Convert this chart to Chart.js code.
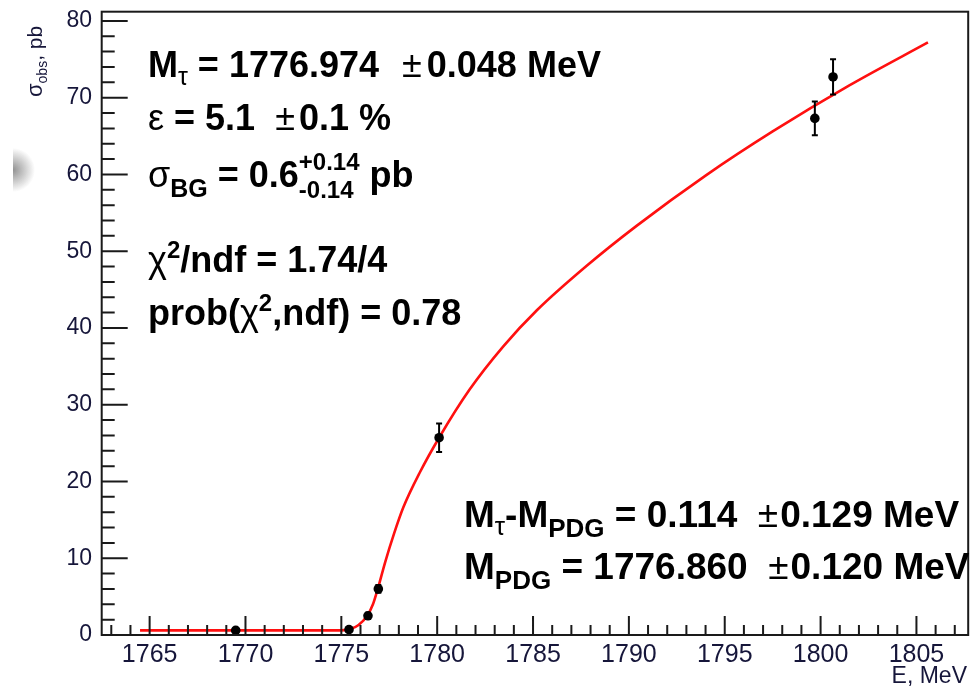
<!DOCTYPE html>
<html>
<head>
<meta charset="utf-8">
<script src="https://cdn.jsdelivr.net/npm/chart.js@4.4.1/dist/chart.umd.min.js"></script>
<style>
  html, body { margin: 0; padding: 0; background: #fff; }
  #wrap { position: relative; width: 973px; height: 689px; }
  #smudge {
    position: absolute; left: 13px; top: 148px; width: 22px; height: 44px;
    background: radial-gradient(ellipse 100% 50% at left center, rgba(110,110,110,0.75), rgba(255,255,255,0) 100%);
  }
</style>
</head>
<body>
<div id="wrap">
  <canvas id="xsChart" width="973" height="689"></canvas>
  <div id="smudge"></div>
</div>
<script>
// measured points: beam energy (MeV), observed cross section (pb) and its error
const energies = [1769.49, 1775.4, 1776.39, 1776.93, 1780.1, 1799.7, 1800.65];
const xsec     = [0.6, 0.7, 2.5, 6.0, 25.7, 67.3, 72.7];
const xsecErr  = [0.3, 0.3, 0.4, 0.5, 1.85, 2.2, 2.3];

// fitted curve, sampled
const fitE    = [1764.5, 1775.0, 1775.5, 1775.9, 1776.35, 1776.65, 1776.9, 1777.3, 1777.75, 1778.23,
                 1779.1, 1780.1, 1781.7, 1783.45, 1785.2, 1787.8, 1790.4, 1794.0, 1797.5, 1801.5, 1805.6];
const fitXsec = [0.6, 0.6, 0.8, 1.3, 2.5, 4.0, 6.0, 9.6, 13.2, 16.6,
                 21.2, 25.7, 32.0, 37.6, 42.3, 48.1, 53.3, 59.85, 65.6, 71.6, 77.2];

const xTickLabels = [1765, 1770, 1775, 1780, 1785, 1790, 1795, 1800, 1805];
const yTickLabels = [0, 10, 20, 30, 40, 50, 60, 70, 80];

const X_MIN = 1762.5, X_MAX = 1807.7, Y_MIN = 0, Y_MAX = 81.2;

const FONT = '"Liberation Sans", Arial, Helvetica, sans-serif';
const B36 = 'bold 36px ' + FONT, R36 = '36px ' + FONT;
const B25 = 'bold 25px ' + FONT, R25 = '25px ' + FONT, B24 = 'bold 24px ' + FONT;
const B37 = 'bold 37px ' + FONT, R37 = '37px ' + FONT, B26 = 'bold 26px ' + FONT, R26 = '26px ' + FONT;

// draw a row of text pieces (sub/superscripts via dy), stack = two pieces at same x
function drawRuns(ctx, x, y, runs) {
  for (const r of runs) {
    if (r.stack) {
      let w = 0;
      for (const s of r.stack) {
        ctx.font = s.f;
        ctx.fillText(s.t, x, y + s.dy);
        w = Math.max(w, ctx.measureText(s.t).width);
      }
      x += w;
    } else {
      ctx.font = r.f;
      ctx.fillText(r.t, x, y + (r.dy || 0));
      x += ctx.measureText(r.t).width + (r.gap || 0);
    }
  }
}

const errorBars = {
  id: 'errorBars',
  afterDatasetDraw(chart, args) {
    if (args.index !== 0) return;
    const ctx = chart.ctx, xs = chart.scales.x, ys = chart.scales.y;
    ctx.save();
    ctx.strokeStyle = '#000';
    ctx.lineWidth = 2;
    energies.forEach((e, i) => {
      const px = xs.getPixelForValue(e);
      const lo = ys.getPixelForValue(xsec[i] - xsecErr[i]);
      const hi = ys.getPixelForValue(xsec[i] + xsecErr[i]);
      ctx.beginPath();
      ctx.moveTo(px, lo); ctx.lineTo(px, hi);
      ctx.moveTo(px - 3, lo); ctx.lineTo(px + 3, lo);
      ctx.moveTo(px - 3, hi); ctx.lineTo(px + 3, hi);
      ctx.stroke();
    });
    ctx.restore();
  }
};

const frame = {
  id: 'frame',
  afterDraw(chart) {
    const ctx = chart.ctx, xs = chart.scales.x, ys = chart.scales.y;
    const a = chart.chartArea;
    ctx.save();

    // axes box
    ctx.strokeStyle = '#1a1a1a';
    ctx.lineWidth = 2;
    ctx.strokeRect(a.left, a.top, a.right - a.left, a.bottom - a.top);

    // ticks pointing into the frame
    ctx.beginPath();
    for (let v = Math.ceil(X_MIN); v <= X_MAX; v += 1) {
      const px = xs.getPixelForValue(v);
      const len = xTickLabels.includes(v) ? 19 : 10;
      ctx.moveTo(px, a.bottom); ctx.lineTo(px, a.bottom - len);
    }
    for (let v = Y_MIN; v <= Y_MAX; v += 2) {
      const py = ys.getPixelForValue(v);
      const len = yTickLabels.includes(v) ? 26 : 13;
      ctx.moveTo(a.left, py); ctx.lineTo(a.left + len, py);
    }
    ctx.stroke();

    // tick labels
    ctx.fillStyle = '#16163a';
    ctx.font = '25px ' + FONT;
    ctx.textAlign = 'center';
    ctx.textBaseline = 'alphabetic';
    xTickLabels.forEach(v => ctx.fillText(String(v), xs.getPixelForValue(v), 662));
    ctx.font = '23px ' + FONT;
    ctx.textAlign = 'right';
    ctx.textBaseline = 'middle';
    yTickLabels.forEach(v => ctx.fillText(String(v), 92, ys.getPixelForValue(v)));

    // axis titles
    ctx.textBaseline = 'alphabetic';
    ctx.font = '23px ' + FONT;
    ctx.fillText('E, MeV', 967, 683);
    ctx.save();
    ctx.translate(42, 97);
    ctx.rotate(-Math.PI / 2);
    ctx.textAlign = 'left';
    drawRuns(ctx, 0, 0, [
      { t: 'σ', f: '22px ' + FONT },
      { t: 'obs', f: '14px ' + FONT, dy: 5 },
      { t: ', pb', f: '21px ' + FONT }
    ]);
    ctx.restore();

    // fit results
    ctx.fillStyle = '#000';
    ctx.textAlign = 'left';
    drawRuns(ctx, 148, 77, [
      { t: 'M', f: B36 }, { t: 'τ', f: R25, dy: 8 },
      { t: ' = 1776.974  ', f: B36, gap: 3 }, { t: '±', f: R36, gap: 5 }, { t: '0.048 MeV', f: B36 }
    ]);
    drawRuns(ctx, 148, 130, [
      { t: 'ε', f: R36 }, { t: ' = 5.1  ', f: B36 }, { t: '±', f: R36, gap: 4 }, { t: '0.1 %', f: B36 }
    ]);
    drawRuns(ctx, 148, 187, [
      { t: 'σ', f: R36 }, { t: 'BG', f: B25, dy: 10 }, { t: ' = 0.6', f: B36 },
      { stack: [{ t: '+0.14', f: B24, dy: -17 }, { t: '-0.14', f: B24, dy: 11 }] },
      { t: ' pb', f: B36 }
    ]);
    drawRuns(ctx, 148, 272, [
      { t: 'χ', f: R36 }, { t: '2', f: B24, dy: -14 }, { t: '/ndf = 1.74/4', f: B36 }
    ]);
    drawRuns(ctx, 148, 325, [
      { t: 'prob(', f: B36 }, { t: 'χ', f: R36 }, { t: '2', f: B24, dy: -14 },
      { t: ',ndf) = 0.78', f: B36 }
    ]);

    drawRuns(ctx, 464, 527, [
      { t: 'M', f: B37 }, { t: 'τ', f: R26, dy: 8 }, { t: '-M', f: B37 },
      { t: 'PDG', f: B26, dy: 10 }, { t: ' = 0.114  ', f: B37 }, { t: '±', f: R37, gap: 2 },
      { t: '0.129 MeV', f: B37 }
    ]);
    drawRuns(ctx, 464, 579, [
      { t: 'M', f: B37 }, { t: 'PDG', f: B26, dy: 10 }, { t: ' = 1776.860  ', f: B37 },
      { t: '±', f: R37, gap: 2 }, { t: '0.120 MeV', f: B37 }
    ]);

    ctx.restore();
  }
};

new Chart(document.getElementById('xsChart'), {
  type: 'scatter',
  data: {
    datasets: [
      {
        type: 'line',
        data: fitE.map((e, i) => ({ x: e, y: fitXsec[i] })),
        borderColor: 'rgb(255, 16, 16)',
        borderWidth: 2.6,
        pointRadius: 0,
        fill: false,
        cubicInterpolationMode: 'monotone',
        order: 2
      },
      {
        data: energies.map((e, i) => ({ x: e, y: xsec[i] })),
        backgroundColor: '#000',
        borderWidth: 0,
        pointRadius: 4.8,
        order: 1
      }
    ]
  },
  options: {
    responsive: false,
    animation: false,
    layout: { padding: { left: 101.7, right: 4.7, top: 11.7, bottom: 54 } },
    plugins: { legend: { display: false }, tooltip: { enabled: false } },
    scales: {
      x: { type: 'linear', min: X_MIN, max: X_MAX, display: false },
      y: { type: 'linear', min: Y_MIN, max: Y_MAX, display: false }
    }
  },
  plugins: [errorBars, frame]
});
</script>
</body>
</html>
